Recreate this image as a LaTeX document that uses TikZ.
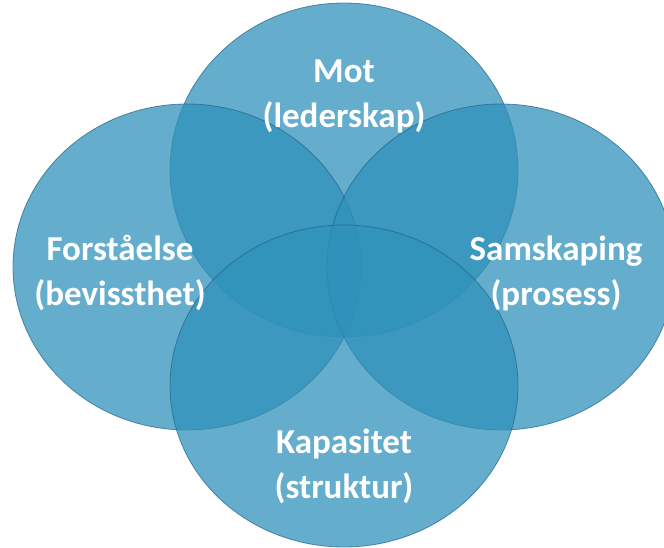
\documentclass[tikz,border=0pt]{standalone}
\usepackage{fontspec}
\setmainfont{Carlito}
\definecolor{vennfill}{RGB}{47,145,186}
\definecolor{vennedge}{RGB}{35,100,135}
\begin{document}
\begin{tikzpicture}[x=1pt,y=-1pt,
  venn/.style={fill=vennfill,fill opacity=0.74,draw=vennedge,draw opacity=0.7,line width=0.8pt},
  lbl/.style={text=white,font=\bfseries\fontsize{35}{45}\selectfont,align=center}]
\useasboundingbox (0,0) rectangle (664,548);
\begin{scope}
\clip (0,0) rectangle (664,548);
\path[venn] (344,170) ellipse [x radius=174,y radius=167];
\path[venn] (187,267) ellipse [x radius=174,y radius=163];
\path[venn] (501,267) ellipse [x radius=174,y radius=163];
\path[venn] (344,386) ellipse [x radius=174,y radius=161];
\end{scope}
\node[lbl] (mot) at (344,96) {Mot\\(lederskap)};
\node[lbl] (forst) at (120,273) {Forståelse\\(bevissthet)};
\node[lbl] (sams) at (556,273) {Samskaping\\(prosess)};
\node[lbl] (kap) at (344,466) {Kapasitet\\(struktur)};
\end{tikzpicture}
\end{document}
